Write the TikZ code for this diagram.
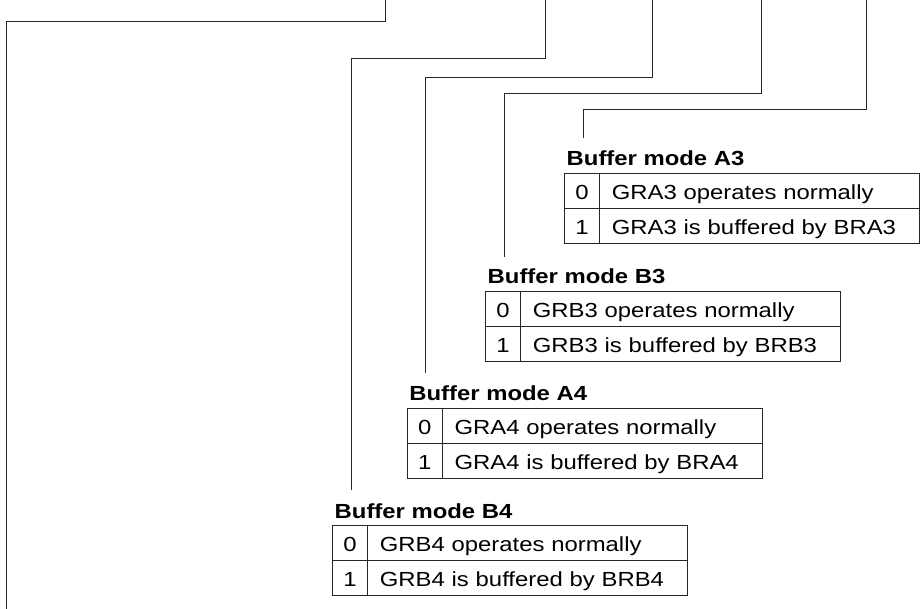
\documentclass[tikz,border=0pt]{standalone}
\usepackage{fontspec}
\newfontfamily\diafont{Liberation Sans}[FakeStretch=1.17]
\usetikzlibrary{calc}
\begin{document}
\begin{tikzpicture}[x=1pt,y=-1pt,
  conn/.style={line width=1pt,draw=black!85},
  cellbase/.style={draw=black!85,line width=1pt,outer sep=0pt,inner ysep=0pt,
    minimum height=35pt,text height=19.8pt,text depth=2.2pt,
    font=\diafont\fontsize{20.4}{24}\selectfont},
  keycell/.style={cellbase,minimum width=35pt,inner xsep=0pt},
  desccell/.style={cellbase,minimum width=320pt,text width=295.2pt,inner xsep=12.4pt,align=left},
  titletext/.style={inner sep=0pt,anchor=base west,font=\diafont\bfseries\fontsize{20.4}{24}\selectfont}
]
\useasboundingbox (0,0) rectangle (921,609);

% tables
\node[keycell,anchor=north west] (A3k0) at (564.5,173.3) {0};
\node[desccell,anchor=north west] (A3d0) at (A3k0.north east) {GRA3 operates normally};
\node[keycell,anchor=north] (A3k1) at (A3k0.south) {1};
\node[desccell,anchor=north west] (A3d1) at (A3k1.north east) {GRA3 is buffered by BRA3};
\node[titletext] (A3t) at ($(A3k0.north west)+(2,-7.5)$) {Buffer mode A3};

\node[keycell,anchor=north west] (B3k0) at (485.5,291.5) {0};
\node[desccell,anchor=north west] (B3d0) at (B3k0.north east) {GRB3 operates normally};
\node[keycell,anchor=north] (B3k1) at (B3k0.south) {1};
\node[desccell,anchor=north west] (B3d1) at (B3k1.north east) {GRB3 is buffered by BRB3};
\node[titletext] (B3t) at ($(B3k0.north west)+(2,-7.5)$) {Buffer mode B3};

\node[keycell,anchor=north west] (A4k0) at (407.2,408.3) {0};
\node[desccell,anchor=north west] (A4d0) at (A4k0.north east) {GRA4 operates normally};
\node[keycell,anchor=north] (A4k1) at (A4k0.south) {1};
\node[desccell,anchor=north west] (A4d1) at (A4k1.north east) {GRA4 is buffered by BRA4};
\node[titletext] (A4t) at ($(A4k0.north west)+(2,-7.5)$) {Buffer mode A4};

\node[keycell,anchor=north west] (B4k0) at (332.5,525.5) {0};
\node[desccell,anchor=north west] (B4d0) at (B4k0.north east) {GRB4 operates normally};
\node[keycell,anchor=north] (B4k1) at (B4k0.south) {1};
\node[desccell,anchor=north west] (B4d1) at (B4k1.north east) {GRB4 is buffered by BRB4};
\node[titletext] (B4t) at ($(B4k0.north west)+(2,-7.5)$) {Buffer mode B4};

% connector coordinates
\coordinate (topL1) at (385.5,0);
\coordinate (kneeL1) at (6.7,21.7);
\coordinate (endL1) at (6.7,609);

\coordinate (topB4) at (545.5,0);
\coordinate (kneeB4) at (351,59);
\coordinate (endB4) at (351,489.5);

\coordinate (topA4) at (652,0);
\coordinate (kneeA4) at (425.7,77.7);
\coordinate (endA4) at (425.7,373);

\coordinate (topB3) at (761,0);
\coordinate (kneeB3) at (504,93.7);
\coordinate (endB3) at (504,256.7);

\coordinate (topA3) at (866,0);
\coordinate (kneeA3) at (583,109.3);
\coordinate (endA3) at (583,138);

\draw[conn] (topL1) |- (kneeL1) -- (endL1);
\draw[conn] (topB4) |- (kneeB4) -- (endB4);
\draw[conn] (topA4) |- (kneeA4) -- (endA4);
\draw[conn] (topB3) |- (kneeB3) -- (endB3);
\draw[conn] (topA3) |- (kneeA3) -- (endA3);
\end{tikzpicture}
\end{document}
